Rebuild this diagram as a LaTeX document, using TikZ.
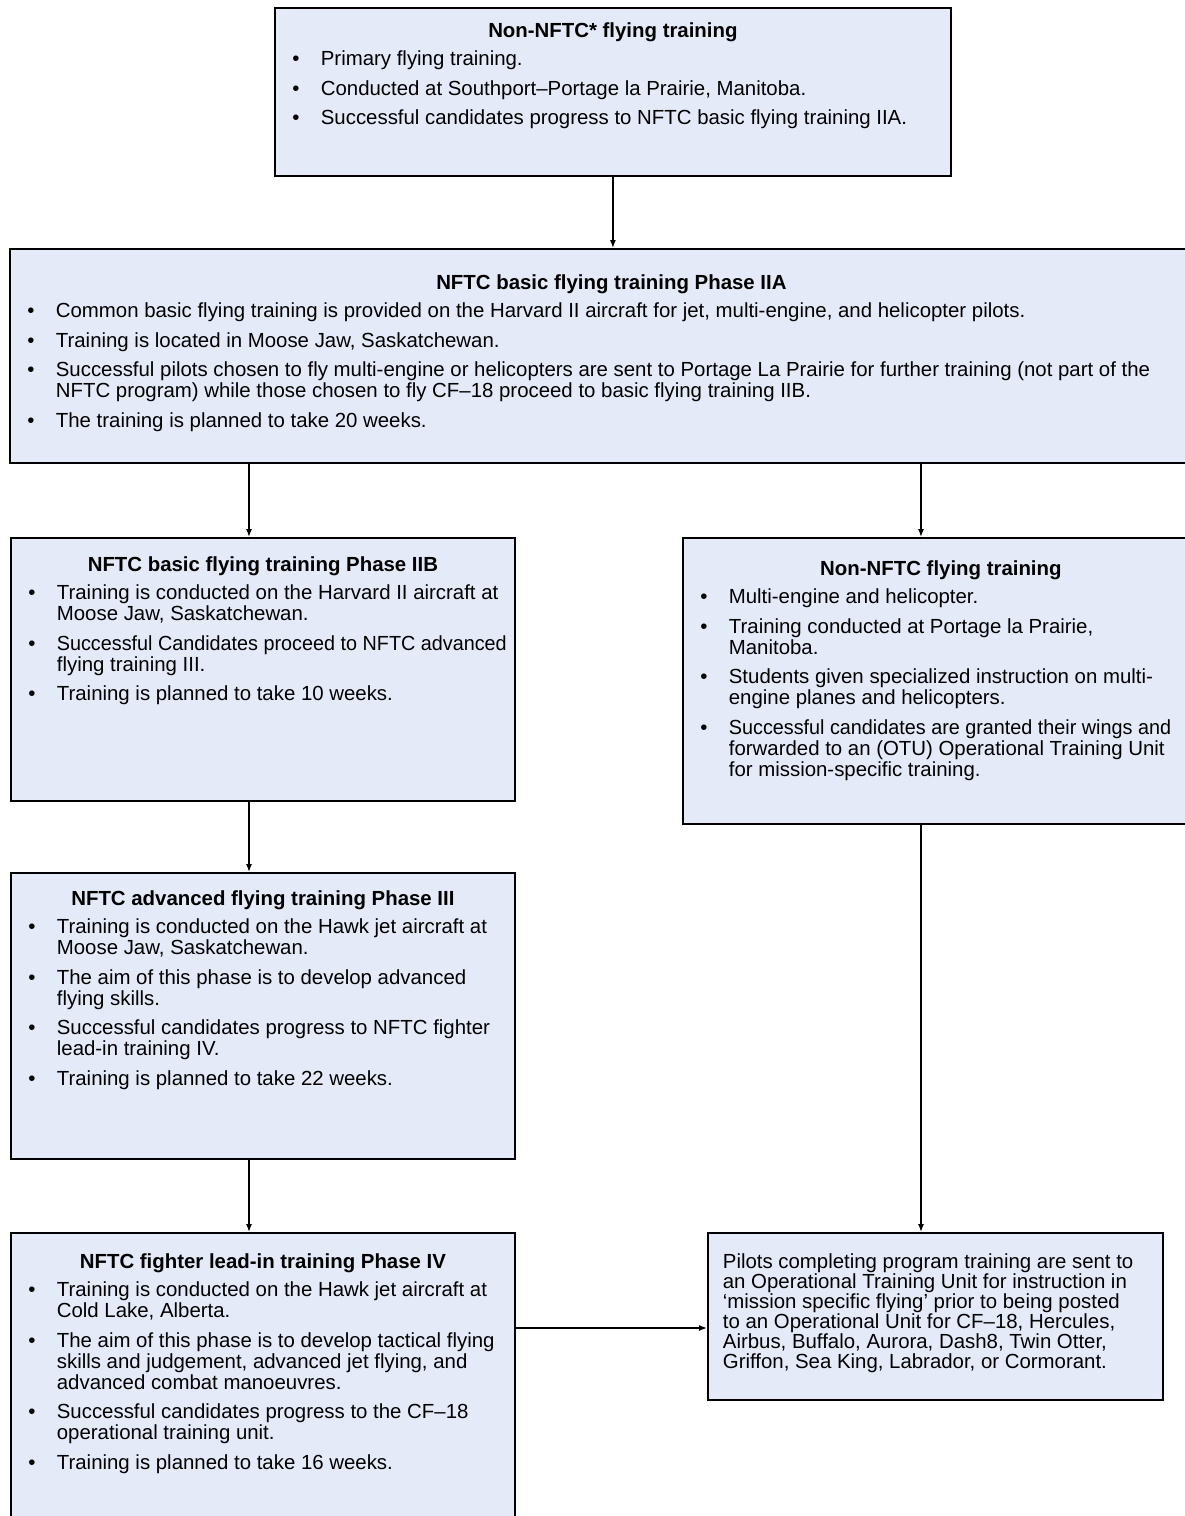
\documentclass[tikz,border=0pt]{standalone}
\usepackage{fontspec}
\setmainfont{Liberation Sans}
\usetikzlibrary{arrows.meta}

\definecolor{stagefill}{RGB}{228,234,248}

\newcommand\stagefont{\fontsize{20.4}{21}\selectfont}
\newcommand\stagetitle[1]{{\centering\bfseries #1\par}\vspace{7pt}}
\newcommand\stageitem[1]{\hangindent=46pt\hangafter=1\noindent
  \hbox to 46pt{\hskip 17.5pt\textbullet\hfil}#1\par\vspace{8.5pt}}
\newcommand\snug[1]{\scalebox{0.97}[1]{#1}}
% width, height, top padding, content
\newcommand\stagebody[4]{\parbox[t][#2][t]{#1}{\hyphenpenalty=10000
  \rightskip=-40pt plus 1fil\parindent=0pt\parskip=0pt\vspace*{#3}#4}}

\tikzset{
  stage/.style={draw, line width=1.8pt, fill=stagefill, inner sep=0pt,
    anchor=north west, font=\stagefont},
  flow/.style={line width=1.3pt, -{Latex[length=8pt,width=6pt]}},
}

\begin{document}
\begin{tikzpicture}[x=1pt, y=-1pt]
  \useasboundingbox (0,0) rectangle (1184,1516);

  \node[stage] (primary) at (274,7) {\stagebody{676pt}{168pt}{15pt}{%
    \stagetitle{Non-NFTC* flying training}
    \stageitem{Primary flying training.}
    \stageitem{Conducted at Southport–Portage la Prairie, Manitoba.}
    \stageitem{Successful candidates progress to NFTC basic flying training IIA.}}};

  \node[stage] (basicA) at (9,248) {\stagebody{1203pt}{214pt}{26pt}{%
    \stagetitle{NFTC basic flying training Phase IIA}
    \stageitem{Common basic flying training is provided on the Harvard II aircraft for jet, multi-engine, and helicopter pilots.}
    \stageitem{Training is located in Moose Jaw, Saskatchewan.}
    \stageitem{Successful pilots chosen to fly multi-engine or helicopters are sent to Portage La Prairie for further training (not part of the\\
      NFTC program) while those chosen to fly CF–18 proceed to basic flying training IIB.}
    \stageitem{The training is planned to take 20 weeks.}}};

  \node[stage] (basicB) at (10,537) {\stagebody{504pt}{263pt}{19pt}{%
    \stagetitle{NFTC basic flying training Phase IIB}
    \stageitem{Training is conducted on the Harvard II aircraft at\\ Moose Jaw, Saskatchewan.}
    \stageitem{\snug{Successful Candidates proceed to NFTC advanced}\\ flying training III.}
    \stageitem{Training is planned to take 10 weeks.}}};

  \node[stage] (nonnftc) at (682,537) {\stagebody{516pt}{286pt}{23pt}{%
    \stagetitle{Non-NFTC flying training}
    \stageitem{Multi-engine and helicopter.}
    \stageitem{Training conducted at Portage la Prairie,\\ Manitoba.}
    \stageitem{Students given specialized instruction on multi-\\ engine planes and helicopters.}
    \stageitem{\snug{Successful candidates are granted their wings and}\\ forwarded to an (OTU) Operational Training Unit\\ for mission-specific training.}}};

  \node[stage] (advanced) at (10,872) {\stagebody{504pt}{286pt}{18pt}{%
    \stagetitle{NFTC advanced flying training Phase III}
    \stageitem{Training is conducted on the Hawk jet aircraft at\\ Moose Jaw, Saskatchewan.}
    \stageitem{The aim of this phase is to develop advanced\\ flying skills.}
    \stageitem{Successful candidates progress to NFTC fighter\\ lead-in training IV.}
    \stageitem{Training is planned to take 22 weeks.}}};

  \node[stage] (leadin) at (10,1232) {\stagebody{504pt}{300pt}{21pt}{%
    \stagetitle{NFTC fighter lead-in training Phase IV}
    \stageitem{Training is conducted on the Hawk jet aircraft at\\ Cold Lake, Alberta.}
    \stageitem{The aim of this phase is to develop tactical flying\\ skills and judgement, advanced jet flying, and\\ advanced combat manoeuvres.}
    \stageitem{Successful candidates progress to the CF–18\\ operational training unit.}
    \stageitem{Training is planned to take 16 weeks.}}};

  \node[stage] (otu) at (707,1232) {\stagebody{455pt}{167pt}{21pt}{%
    \fontsize{20.4}{20}\selectfont\leftskip=15pt
    Pilots completing program training are sent to\\
    an Operational Training Unit for instruction in\\
    ‘mission specific flying’ prior to being posted\\
    to an Operational Unit for CF–18, Hercules,\\
    Airbus, Buffalo, Aurora, Dash8, Twin Otter,\\
    Griffon, Sea King, Labrador, or Cormorant.\par}};

  \coordinate (leftlane) at (249,0);
  \coordinate (rightlane) at (921,0);
  \coordinate (joinrow) at (0,1328);

  \draw[flow] (primary.south) -- (primary.south |- basicA.north);
  \draw[flow] (basicA.south -| leftlane) -- (basicB.north -| leftlane);
  \draw[flow] (basicA.south -| rightlane) -- (nonnftc.north -| rightlane);
  \draw[flow] (basicB.south -| leftlane) -- (advanced.north -| leftlane);
  \draw[flow] (advanced.south -| leftlane) -- (leadin.north -| leftlane);
  \draw[flow] (nonnftc.south -| rightlane) -- (otu.north -| rightlane);
  \draw[flow] (leadin.east |- joinrow) -- (otu.west |- joinrow);
\end{tikzpicture}
\end{document}
